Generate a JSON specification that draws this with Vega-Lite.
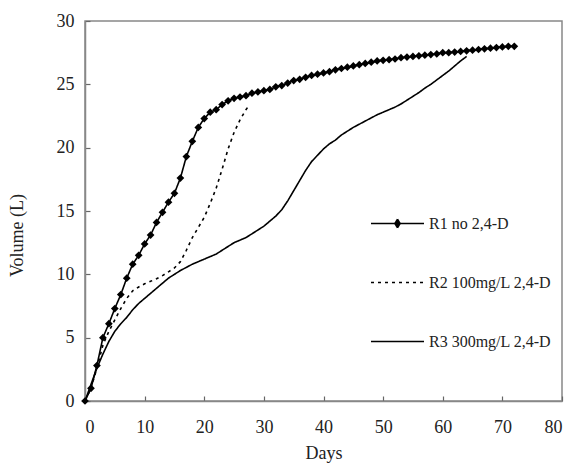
{
  "$schema": "https://vega.github.io/schema/vega-lite/v6.json",
  "autosize": {"type": "none"},
  "padding": {"left": 85, "top": 21, "right": 12, "bottom": 65},
  "width": 477,
  "height": 380,
  "background": "white",
  "config": {
    "view": {"stroke": "#888", "strokeWidth": 1.5},
    "font": "Liberation Serif",
    "axis": {
      "grid": false,
      "domainColor": "#888",
      "domainWidth": 1.5,
      "tickColor": "#666",
      "tickWidth": 1.2,
      "tickSize": -5,
      "labelFont": "Liberation Serif",
      "labelFontSize": 18,
      "labelColor": "#222",
      "titleFont": "Liberation Serif",
      "titleFontSize": 18,
      "titleFontWeight": "normal",
      "titleColor": "#222"
    }
  },
  "data": {
    "values": [
      {"series": "R1 no 2,4-D", "day": 0, "volume": 0},
      {"series": "R1 no 2,4-D", "day": 1, "volume": 1.0},
      {"series": "R1 no 2,4-D", "day": 2, "volume": 2.8},
      {"series": "R1 no 2,4-D", "day": 3, "volume": 5.0},
      {"series": "R1 no 2,4-D", "day": 4, "volume": 6.1},
      {"series": "R1 no 2,4-D", "day": 5, "volume": 7.3},
      {"series": "R1 no 2,4-D", "day": 6, "volume": 8.4},
      {"series": "R1 no 2,4-D", "day": 7, "volume": 9.7},
      {"series": "R1 no 2,4-D", "day": 8, "volume": 10.8},
      {"series": "R1 no 2,4-D", "day": 9, "volume": 11.5},
      {"series": "R1 no 2,4-D", "day": 10, "volume": 12.4},
      {"series": "R1 no 2,4-D", "day": 11, "volume": 13.1},
      {"series": "R1 no 2,4-D", "day": 12, "volume": 14.1},
      {"series": "R1 no 2,4-D", "day": 13, "volume": 14.9},
      {"series": "R1 no 2,4-D", "day": 14, "volume": 15.7},
      {"series": "R1 no 2,4-D", "day": 15, "volume": 16.4},
      {"series": "R1 no 2,4-D", "day": 16, "volume": 17.6},
      {"series": "R1 no 2,4-D", "day": 17, "volume": 19.3},
      {"series": "R1 no 2,4-D", "day": 18, "volume": 20.5},
      {"series": "R1 no 2,4-D", "day": 19, "volume": 21.6},
      {"series": "R1 no 2,4-D", "day": 20, "volume": 22.3},
      {"series": "R1 no 2,4-D", "day": 21, "volume": 22.8},
      {"series": "R1 no 2,4-D", "day": 22, "volume": 23.0},
      {"series": "R1 no 2,4-D", "day": 23, "volume": 23.4},
      {"series": "R1 no 2,4-D", "day": 24, "volume": 23.7},
      {"series": "R1 no 2,4-D", "day": 25, "volume": 23.9},
      {"series": "R1 no 2,4-D", "day": 26, "volume": 24.0},
      {"series": "R1 no 2,4-D", "day": 27, "volume": 24.1},
      {"series": "R1 no 2,4-D", "day": 28, "volume": 24.3},
      {"series": "R1 no 2,4-D", "day": 29, "volume": 24.4},
      {"series": "R1 no 2,4-D", "day": 30, "volume": 24.5},
      {"series": "R1 no 2,4-D", "day": 31, "volume": 24.6},
      {"series": "R1 no 2,4-D", "day": 32, "volume": 24.8},
      {"series": "R1 no 2,4-D", "day": 33, "volume": 24.9},
      {"series": "R1 no 2,4-D", "day": 34, "volume": 25.1},
      {"series": "R1 no 2,4-D", "day": 35, "volume": 25.3},
      {"series": "R1 no 2,4-D", "day": 36, "volume": 25.4},
      {"series": "R1 no 2,4-D", "day": 37, "volume": 25.55},
      {"series": "R1 no 2,4-D", "day": 38, "volume": 25.7},
      {"series": "R1 no 2,4-D", "day": 39, "volume": 25.8},
      {"series": "R1 no 2,4-D", "day": 40, "volume": 25.9},
      {"series": "R1 no 2,4-D", "day": 41, "volume": 26.0},
      {"series": "R1 no 2,4-D", "day": 42, "volume": 26.15},
      {"series": "R1 no 2,4-D", "day": 43, "volume": 26.25},
      {"series": "R1 no 2,4-D", "day": 44, "volume": 26.35},
      {"series": "R1 no 2,4-D", "day": 45, "volume": 26.45},
      {"series": "R1 no 2,4-D", "day": 46, "volume": 26.55},
      {"series": "R1 no 2,4-D", "day": 47, "volume": 26.65},
      {"series": "R1 no 2,4-D", "day": 48, "volume": 26.75},
      {"series": "R1 no 2,4-D", "day": 49, "volume": 26.85},
      {"series": "R1 no 2,4-D", "day": 50, "volume": 26.9},
      {"series": "R1 no 2,4-D", "day": 51, "volume": 26.95},
      {"series": "R1 no 2,4-D", "day": 52, "volume": 27.0},
      {"series": "R1 no 2,4-D", "day": 53, "volume": 27.1},
      {"series": "R1 no 2,4-D", "day": 54, "volume": 27.15},
      {"series": "R1 no 2,4-D", "day": 55, "volume": 27.2},
      {"series": "R1 no 2,4-D", "day": 56, "volume": 27.25},
      {"series": "R1 no 2,4-D", "day": 57, "volume": 27.3},
      {"series": "R1 no 2,4-D", "day": 58, "volume": 27.35},
      {"series": "R1 no 2,4-D", "day": 59, "volume": 27.4},
      {"series": "R1 no 2,4-D", "day": 60, "volume": 27.5},
      {"series": "R1 no 2,4-D", "day": 61, "volume": 27.5},
      {"series": "R1 no 2,4-D", "day": 62, "volume": 27.55},
      {"series": "R1 no 2,4-D", "day": 63, "volume": 27.6},
      {"series": "R1 no 2,4-D", "day": 64, "volume": 27.65},
      {"series": "R1 no 2,4-D", "day": 65, "volume": 27.7},
      {"series": "R1 no 2,4-D", "day": 66, "volume": 27.75},
      {"series": "R1 no 2,4-D", "day": 67, "volume": 27.8},
      {"series": "R1 no 2,4-D", "day": 68, "volume": 27.85},
      {"series": "R1 no 2,4-D", "day": 69, "volume": 27.9},
      {"series": "R1 no 2,4-D", "day": 70, "volume": 27.95},
      {"series": "R1 no 2,4-D", "day": 71, "volume": 28.0},
      {"series": "R1 no 2,4-D", "day": 72, "volume": 28.0},
      {"series": "R2 100mg/L 2,4-D", "day": 0, "volume": 0},
      {"series": "R2 100mg/L 2,4-D", "day": 1, "volume": 1.0},
      {"series": "R2 100mg/L 2,4-D", "day": 2, "volume": 2.6},
      {"series": "R2 100mg/L 2,4-D", "day": 3, "volume": 4.4},
      {"series": "R2 100mg/L 2,4-D", "day": 4, "volume": 5.5},
      {"series": "R2 100mg/L 2,4-D", "day": 5, "volume": 6.4},
      {"series": "R2 100mg/L 2,4-D", "day": 6, "volume": 7.3},
      {"series": "R2 100mg/L 2,4-D", "day": 7, "volume": 8.1},
      {"series": "R2 100mg/L 2,4-D", "day": 8, "volume": 8.7},
      {"series": "R2 100mg/L 2,4-D", "day": 9, "volume": 9.0},
      {"series": "R2 100mg/L 2,4-D", "day": 10, "volume": 9.25},
      {"series": "R2 100mg/L 2,4-D", "day": 11, "volume": 9.45},
      {"series": "R2 100mg/L 2,4-D", "day": 12, "volume": 9.65},
      {"series": "R2 100mg/L 2,4-D", "day": 13, "volume": 9.9},
      {"series": "R2 100mg/L 2,4-D", "day": 14, "volume": 10.2},
      {"series": "R2 100mg/L 2,4-D", "day": 15, "volume": 10.5},
      {"series": "R2 100mg/L 2,4-D", "day": 16, "volume": 11.0},
      {"series": "R2 100mg/L 2,4-D", "day": 17, "volume": 11.9},
      {"series": "R2 100mg/L 2,4-D", "day": 18, "volume": 12.9},
      {"series": "R2 100mg/L 2,4-D", "day": 19, "volume": 13.7},
      {"series": "R2 100mg/L 2,4-D", "day": 20, "volume": 14.5},
      {"series": "R2 100mg/L 2,4-D", "day": 21, "volume": 15.6},
      {"series": "R2 100mg/L 2,4-D", "day": 22, "volume": 16.8},
      {"series": "R2 100mg/L 2,4-D", "day": 23, "volume": 18.3},
      {"series": "R2 100mg/L 2,4-D", "day": 24, "volume": 19.9},
      {"series": "R2 100mg/L 2,4-D", "day": 25, "volume": 21.2},
      {"series": "R2 100mg/L 2,4-D", "day": 26, "volume": 22.2},
      {"series": "R2 100mg/L 2,4-D", "day": 27, "volume": 23.0},
      {"series": "R2 100mg/L 2,4-D", "day": 27.6, "volume": 23.4},
      {"series": "R3 300mg/L 2,4-D", "day": 0, "volume": 0},
      {"series": "R3 300mg/L 2,4-D", "day": 1, "volume": 1.3},
      {"series": "R3 300mg/L 2,4-D", "day": 2, "volume": 2.6},
      {"series": "R3 300mg/L 2,4-D", "day": 3, "volume": 3.7},
      {"series": "R3 300mg/L 2,4-D", "day": 4, "volume": 4.7},
      {"series": "R3 300mg/L 2,4-D", "day": 5, "volume": 5.5},
      {"series": "R3 300mg/L 2,4-D", "day": 6, "volume": 6.1},
      {"series": "R3 300mg/L 2,4-D", "day": 7, "volume": 6.6},
      {"series": "R3 300mg/L 2,4-D", "day": 8, "volume": 7.2},
      {"series": "R3 300mg/L 2,4-D", "day": 9, "volume": 7.7},
      {"series": "R3 300mg/L 2,4-D", "day": 10, "volume": 8.1},
      {"series": "R3 300mg/L 2,4-D", "day": 11, "volume": 8.5},
      {"series": "R3 300mg/L 2,4-D", "day": 12, "volume": 8.9},
      {"series": "R3 300mg/L 2,4-D", "day": 13, "volume": 9.3},
      {"series": "R3 300mg/L 2,4-D", "day": 14, "volume": 9.7},
      {"series": "R3 300mg/L 2,4-D", "day": 15, "volume": 10.0},
      {"series": "R3 300mg/L 2,4-D", "day": 16, "volume": 10.3},
      {"series": "R3 300mg/L 2,4-D", "day": 17, "volume": 10.55},
      {"series": "R3 300mg/L 2,4-D", "day": 18, "volume": 10.8},
      {"series": "R3 300mg/L 2,4-D", "day": 19, "volume": 11.0},
      {"series": "R3 300mg/L 2,4-D", "day": 20, "volume": 11.2},
      {"series": "R3 300mg/L 2,4-D", "day": 21, "volume": 11.4},
      {"series": "R3 300mg/L 2,4-D", "day": 22, "volume": 11.6},
      {"series": "R3 300mg/L 2,4-D", "day": 23, "volume": 11.9},
      {"series": "R3 300mg/L 2,4-D", "day": 24, "volume": 12.2},
      {"series": "R3 300mg/L 2,4-D", "day": 25, "volume": 12.5},
      {"series": "R3 300mg/L 2,4-D", "day": 26, "volume": 12.7},
      {"series": "R3 300mg/L 2,4-D", "day": 27, "volume": 12.9},
      {"series": "R3 300mg/L 2,4-D", "day": 28, "volume": 13.2},
      {"series": "R3 300mg/L 2,4-D", "day": 29, "volume": 13.5},
      {"series": "R3 300mg/L 2,4-D", "day": 30, "volume": 13.8},
      {"series": "R3 300mg/L 2,4-D", "day": 31, "volume": 14.2},
      {"series": "R3 300mg/L 2,4-D", "day": 32, "volume": 14.6},
      {"series": "R3 300mg/L 2,4-D", "day": 33, "volume": 15.1},
      {"series": "R3 300mg/L 2,4-D", "day": 34, "volume": 15.8},
      {"series": "R3 300mg/L 2,4-D", "day": 35, "volume": 16.6},
      {"series": "R3 300mg/L 2,4-D", "day": 36, "volume": 17.4},
      {"series": "R3 300mg/L 2,4-D", "day": 37, "volume": 18.2},
      {"series": "R3 300mg/L 2,4-D", "day": 38, "volume": 18.9},
      {"series": "R3 300mg/L 2,4-D", "day": 39, "volume": 19.4},
      {"series": "R3 300mg/L 2,4-D", "day": 40, "volume": 19.9},
      {"series": "R3 300mg/L 2,4-D", "day": 41, "volume": 20.3},
      {"series": "R3 300mg/L 2,4-D", "day": 42, "volume": 20.6},
      {"series": "R3 300mg/L 2,4-D", "day": 43, "volume": 21.0},
      {"series": "R3 300mg/L 2,4-D", "day": 44, "volume": 21.3},
      {"series": "R3 300mg/L 2,4-D", "day": 45, "volume": 21.6},
      {"series": "R3 300mg/L 2,4-D", "day": 46, "volume": 21.85},
      {"series": "R3 300mg/L 2,4-D", "day": 47, "volume": 22.1},
      {"series": "R3 300mg/L 2,4-D", "day": 48, "volume": 22.35},
      {"series": "R3 300mg/L 2,4-D", "day": 49, "volume": 22.6},
      {"series": "R3 300mg/L 2,4-D", "day": 50, "volume": 22.8},
      {"series": "R3 300mg/L 2,4-D", "day": 51, "volume": 23.0},
      {"series": "R3 300mg/L 2,4-D", "day": 52, "volume": 23.2},
      {"series": "R3 300mg/L 2,4-D", "day": 53, "volume": 23.45},
      {"series": "R3 300mg/L 2,4-D", "day": 54, "volume": 23.75},
      {"series": "R3 300mg/L 2,4-D", "day": 55, "volume": 24.05},
      {"series": "R3 300mg/L 2,4-D", "day": 56, "volume": 24.35},
      {"series": "R3 300mg/L 2,4-D", "day": 57, "volume": 24.7},
      {"series": "R3 300mg/L 2,4-D", "day": 58, "volume": 25.0},
      {"series": "R3 300mg/L 2,4-D", "day": 59, "volume": 25.35},
      {"series": "R3 300mg/L 2,4-D", "day": 60, "volume": 25.7},
      {"series": "R3 300mg/L 2,4-D", "day": 61, "volume": 26.05},
      {"series": "R3 300mg/L 2,4-D", "day": 62, "volume": 26.45},
      {"series": "R3 300mg/L 2,4-D", "day": 63, "volume": 26.85},
      {"series": "R3 300mg/L 2,4-D", "day": 64, "volume": 27.2}
    ]
  },
  "layer": [
    {
      "mark": {"type": "line", "color": "black", "strokeWidth": 1.6},
      "encoding": {
        "x": {
          "field": "day", "type": "quantitative",
          "scale": {"domain": [0, 80], "nice": false},
          "axis": {"values": [0, 10, 20, 30, 40, 50, 60, 70, 80], "title": "Days", "labelPadding": 22, "titlePadding": 8}
        },
        "y": {
          "field": "volume", "type": "quantitative",
          "scale": {"domain": [0, 30], "nice": false},
          "axis": {"values": [0, 5, 10, 15, 20, 25, 30], "title": "Volume (L)", "labelPadding": 16, "titlePadding": 30, "titleY": 214}
        },
        "detail": {"field": "series"},
        "strokeDash": {
          "field": "series", "type": "nominal",
          "scale": {"domain": ["R1 no 2,4-D", "R2 100mg/L 2,4-D", "R3 300mg/L 2,4-D"], "range": [[1, 0], [3, 4], [1, 0]]},
          "legend": {
            "title": null,
            "orient": "none",
            "legendX": 285,
            "legendY": 175,
            "symbolType": "stroke",
            "symbolSize": 2809,
            "symbolStrokeColor": "black",
            "symbolStrokeWidth": 1.6,
            "labelFont": "Liberation Serif",
            "labelFontSize": 16,
            "labelColor": "#222",
            "labelOffset": 4,
            "rowPadding": 23,
            "encode": {
              "symbols": {
                "update": {
                  "shape": [
                    {"test": "datum.value === 'R1 no 2,4-D'", "value": "M-1,0L1,0M0,-0.16L0.1,0L0,0.16L-0.1,0Z"},
                    {"value": "stroke"}
                  ],
                  "fill": [
                    {"test": "datum.value === 'R1 no 2,4-D'", "value": "black"},
                    {"value": "transparent"}
                  ],
                  "stroke": {"value": "black"}
                }
              }
            }
          }
        }
      }
    },
    {
      "transform": [{"filter": "datum.series === 'R1 no 2,4-D'"}],
      "mark": {"type": "point", "shape": "diamond", "filled": true, "color": "black", "size": 60, "opacity": 1},
      "encoding": {
        "x": {"field": "day", "type": "quantitative"},
        "y": {"field": "volume", "type": "quantitative"}
      }
    }
  ]
}
